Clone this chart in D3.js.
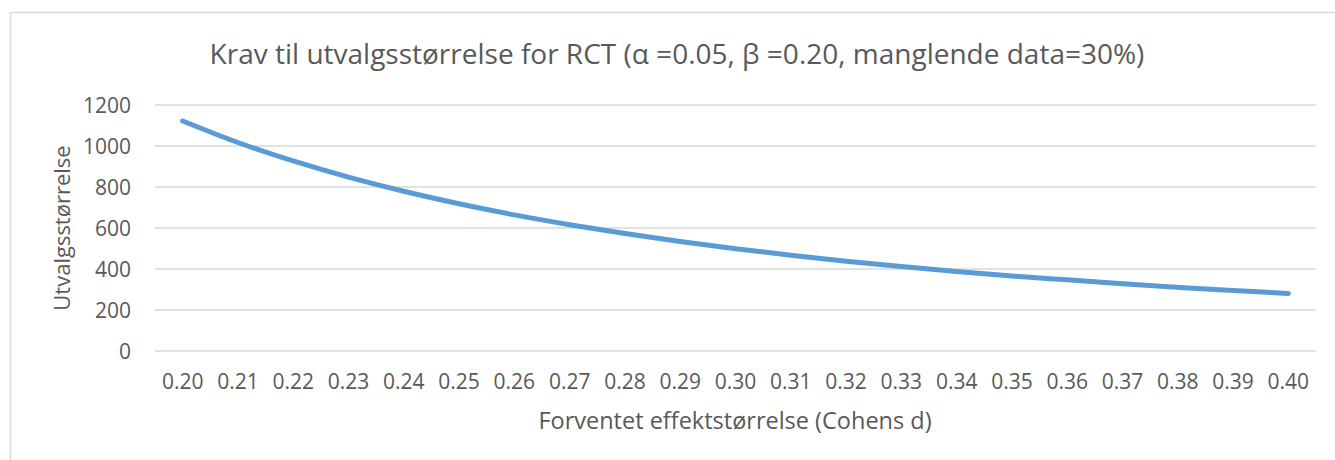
<!DOCTYPE html>
<html><head><meta charset="utf-8">
<script src="https://cdn.jsdelivr.net/npm/d3@7"></script>
<style>
body{margin:0;background:#fff;}
text{font-family:"Open Sans",sans-serif;fill:#595959;}
</style></head>
<body><svg id="c" width="1335" height="460"></svg>
<script>
const categories = ["0.20","0.21","0.22","0.23","0.24","0.25","0.26","0.27","0.28","0.29","0.30","0.31","0.32","0.33","0.34","0.35","0.36","0.37","0.38","0.39","0.40"];
const sampleSize = [1122,1017,927,848,779,718,664,616,573,534,499,467,438,412,388,366,347,328,311,295,281];
const yTicks = [0,200,400,600,800,1000,1200];
const titleText = "Krav til utvalgsstørrelse for RCT (α =0.05, β =0.20, manglende data=30%)";
const xTitle = "Forventet effektstørrelse (Cohens d)";
const yTitle = "Utvalgsstørrelse";

const svg = d3.select("#c");
const L = 155, R = 1316, T = 105, B = 351;

svg.append("path").attr("d", `M10.5,470 V12.5 H1345`).attr("fill","none").attr("stroke","#d9d9d9").attr("stroke-width",1.5);

const x = d3.scaleBand().domain(categories).range([L, R]);
const y = d3.scaleLinear().domain([0,1200]).range([B, T]);

svg.append("g").selectAll("line").data(yTicks).join("line")
  .attr("x1", L).attr("x2", R).attr("y1", d=>y(d)).attr("y2", d=>y(d))
  .attr("stroke","#d9d9d9").attr("stroke-width",1.5);

const ya = svg.append("g").attr("transform",`translate(${L},0)`)
  .call(d3.axisLeft(y).tickValues(yTicks).tickFormat(d3.format("d")).tickSize(0).tickPadding(24));
ya.select(".domain").remove();
ya.selectAll("text").style("font-size","21px").style("font-family","Open Sans").attr("fill","#595959").attr("dy","0.35em");

const xa = svg.append("g").attr("transform",`translate(0,${B})`)
  .call(d3.axisBottom(x).tickSize(0).tickPadding(23));
xa.select(".domain").remove();
xa.selectAll("text").style("font-size","21px").style("font-family","Open Sans").attr("fill","#595959");

const line = d3.line().x((d,i)=>x(categories[i]) + x.bandwidth()/2).y(d=>y(d)).curve(d3.curveMonotoneX);
svg.append("path").datum(sampleSize).attr("d", line)
  .attr("fill","none").attr("stroke","#5b9bd5").attr("stroke-width",5).attr("stroke-linecap","round").attr("stroke-linejoin","round");

svg.append("text").attr("x", 677).attr("y", 64).attr("text-anchor","middle").style("font-size","28px").text(titleText);
svg.append("text").attr("x", 735).attr("y", 429).attr("text-anchor","middle").style("font-size","23.5px").text(xTitle);
svg.append("text").attr("transform",`translate(70,${(T+B)/2}) rotate(-90)`).attr("text-anchor","middle").style("font-size","22px").text(yTitle);
</script></body></html>
